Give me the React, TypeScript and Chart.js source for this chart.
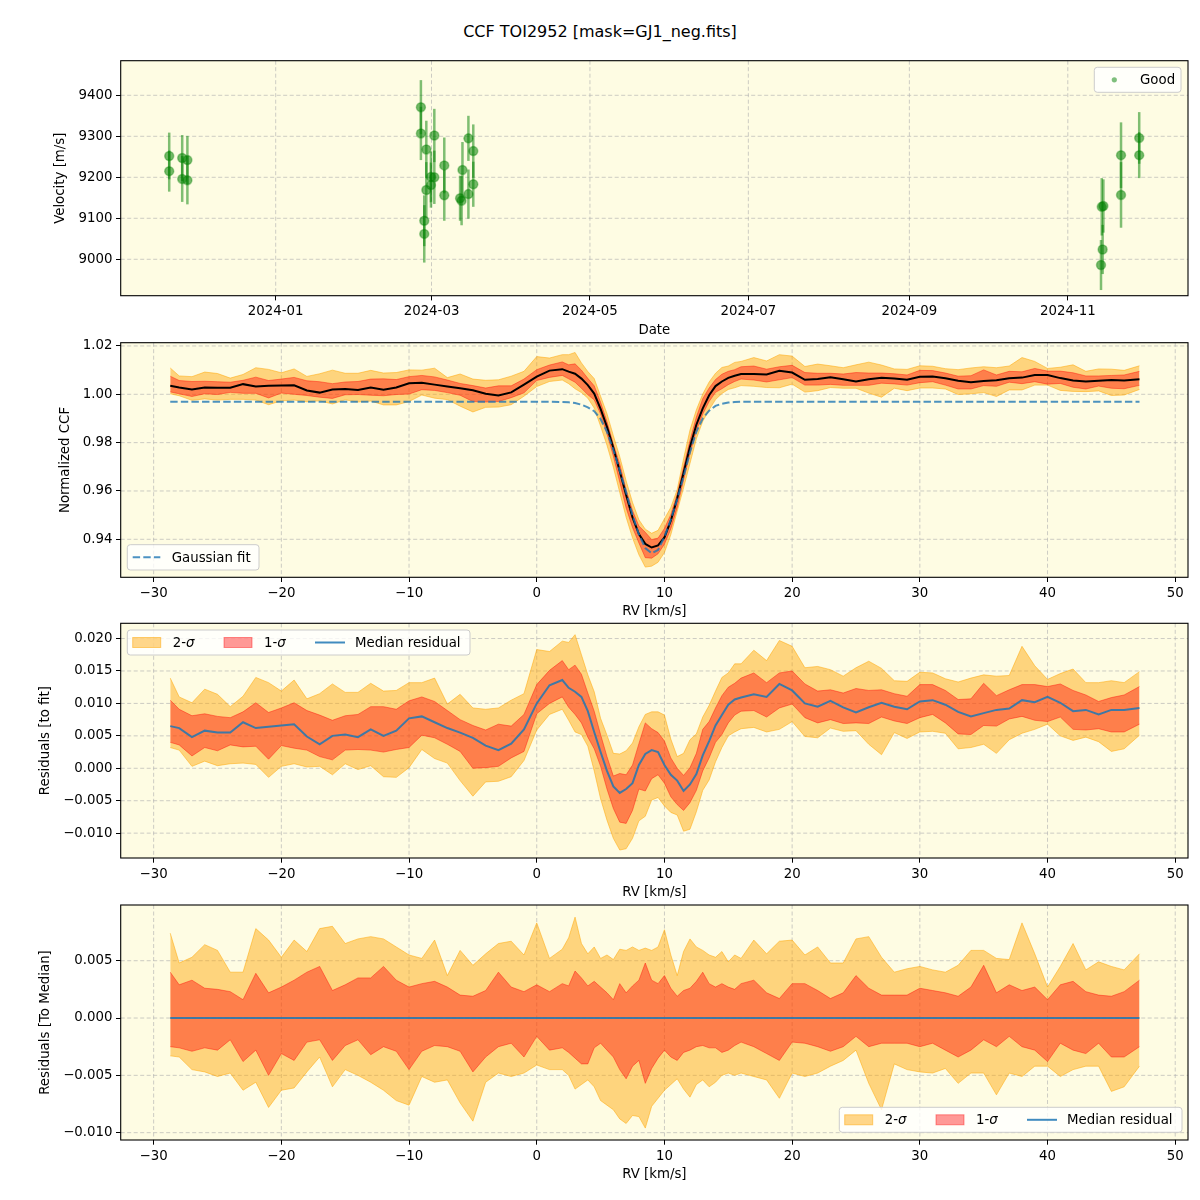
import React, { useEffect, useRef } from 'react';
import { Chart, registerables } from 'chart.js';

Chart.register(...registerables);

const FONT_FAMILY = "'DejaVu Sans', sans-serif";
const FONT_SIZE = 13.33;
const TITLE = 'CCF TOI2952 [mask=GJ1_neg.fits]';

// ---------- Panel 1: velocities ----------
const OBS_TIMES = [
  '2023-11-21T00:00Z', '2023-11-21T00:00Z', '2023-11-26T00:00Z', '2023-11-26T00:00Z',
  '2023-11-28T00:00Z', '2023-11-28T00:00Z', '2024-02-25T22:00Z', '2024-02-25T22:00Z',
  '2024-02-27T05:00Z', '2024-02-27T05:00Z', '2024-02-28T00:00Z', '2024-02-28T00:00Z',
  '2024-02-29T19:00Z', '2024-02-29T19:00Z', '2024-03-02T02:00Z', '2024-03-02T02:00Z',
  '2024-03-05T22:00Z', '2024-03-05T22:00Z', '2024-03-12T00:00Z', '2024-03-12T14:00Z',
  '2024-03-12T22:00Z', '2024-03-15T05:00Z', '2024-03-15T05:00Z', '2024-03-17T02:00Z',
  '2024-03-17T02:00Z', '2024-11-13T19:00Z', '2024-11-14T02:00Z', '2024-11-14T10:00Z',
  '2024-11-14T17:00Z', '2024-11-21T12:00Z', '2024-11-21T12:00Z', '2024-11-28T12:00Z',
  '2024-11-28T12:00Z',
];
const VELOCITY = [
  9252, 9215, 9247, 9196, 9242, 9193, 9371, 9307, 9094, 9062, 9268, 9169, 9201, 9181,
  9302, 9200, 9229, 9156, 9149, 9143, 9218, 9295, 9159, 9264, 9183, 8986, 9128, 9024,
  9130, 9254, 9157, 9296, 9254,
];
const VELOCITY_ERR = [
  57, 50, 56, 56, 59, 59, 66, 65, 62, 70, 70, 68, 62, 55, 65, 65, 68, 62, 55, 60, 68, 55,
  60, 65, 55, 61, 70, 60, 65, 80, 80, 63, 56,
];
const DATE_TICKS = ['2024-01-01', '2024-03-01', '2024-05-01', '2024-07-01', '2024-09-01', '2024-11-01'];
const VEL_TICKS = [9000, 9100, 9200, 9300, 9400];

// ---------- Panels 2-4: CCF ----------
const RV = [
  -28.7, -28, -27, -26, -25, -24, -23, -22, -21, -20,
  -19, -18, -17, -16, -15, -14, -13, -12, -11, -10,
  -9, -8, -7, -6, -5, -4, -3, -2, -1, 0,
  1, 2, 2.5, 3, 3.5, 4, 4.5, 5, 5.5, 6,
  6.5, 7, 7.5, 8, 8.5, 9, 9.5, 10, 10.5, 11,
  11.5, 12, 12.5, 13, 13.5, 14, 14.5, 15, 15.5, 16,
  17, 18, 19, 20, 21, 22, 23, 24, 25, 26,
  27, 28, 29, 30, 31, 32, 33, 34, 35, 36,
  37, 38, 39, 40, 41, 42, 43, 44, 45, 46,
  47.2,
];
const CCF_MEDIAN = [
  1.0035, 1.0028, 1.0020, 1.0028, 1.0027, 1.0027, 1.0042, 1.0032, 1.0035, 1.0036,
  1.0037, 1.0016, 1.0007, 1.0020, 1.0022, 1.0018, 1.0028, 1.0019, 1.0028, 1.0046,
  1.0048, 1.0040, 1.0032, 1.0025, 1.0017, 1.0002, 0.9995, 1.0008, 1.0040, 1.0073,
  1.0098, 1.0104, 1.0094, 1.0085, 1.0065, 1.0038, 1.0003, 0.9940, 0.9865, 0.9778,
  0.9682, 0.9583, 0.9491, 0.9422, 0.9381, 0.9366, 0.9375, 0.9408, 0.9477, 0.9569,
  0.9675, 0.9783, 0.9874, 0.9942, 0.9996, 1.0034, 1.0053, 1.0068, 1.0077, 1.0084,
  1.0084, 1.0082, 1.0097, 1.0090, 1.0060, 1.0063, 1.0070, 1.0062, 1.0053, 1.0062,
  1.0068, 1.0065, 1.0060, 1.0073, 1.0074, 1.0066, 1.0056, 1.0050, 1.0055, 1.0058,
  1.0066, 1.0069, 1.0080, 1.0080, 1.0067, 1.0057, 1.0053, 1.0056, 1.0059, 1.0057,
  1.0062,
];
const GAUSS_FIT = [
  0.9969, 0.9969, 0.9969, 0.9969, 0.9969, 0.9969, 0.9969, 0.9969, 0.9969, 0.9969,
  0.9969, 0.9969, 0.9969, 0.9969, 0.9969, 0.9969, 0.9969, 0.9969, 0.9969, 0.9969,
  0.9969, 0.9969, 0.9969, 0.9969, 0.9969, 0.9969, 0.9969, 0.9969, 0.9969, 0.9969,
  0.9969, 0.9968, 0.9967, 0.9964, 0.9957, 0.9946, 0.9930, 0.9898, 0.9845, 0.9770,
  0.9685, 0.9595, 0.9500, 0.9420, 0.9364, 0.9342, 0.9356, 0.9410, 0.9482, 0.9565,
  0.9660, 0.9760, 0.9845, 0.9900, 0.9932, 0.9952, 0.9961, 0.9966, 0.9968, 0.9969,
  0.9969, 0.9969, 0.9969, 0.9969, 0.9969, 0.9969, 0.9969, 0.9969, 0.9969, 0.9969,
  0.9969, 0.9969, 0.9969, 0.9969, 0.9969, 0.9969, 0.9969, 0.9969, 0.9969, 0.9969,
  0.9969, 0.9969, 0.9969, 0.9969, 0.9969, 0.9969, 0.9969, 0.9969, 0.9969, 0.9969,
  0.9969,
];
const RESID_MEDIAN = [
  0.0065, 0.0062, 0.0048, 0.0058, 0.0055, 0.0055, 0.0071, 0.0062, 0.0064, 0.0066,
  0.0068, 0.0049, 0.0037, 0.0050, 0.0052, 0.0048, 0.0060, 0.0050, 0.0058, 0.0077,
  0.0080, 0.0071, 0.0062, 0.0055, 0.0047, 0.0035, 0.0028, 0.0038, 0.0060, 0.0100,
  0.0128, 0.0136, 0.0124, 0.0118, 0.0110, 0.0088, 0.0056, 0.0025, -0.0004, -0.0028,
  -0.0038, -0.0032, -0.0023, 0.0005, 0.0022, 0.0028, 0.0025, 0.0005, -0.0010, -0.0019,
  -0.0035, -0.0025, -0.0009, 0.0020, 0.0042, 0.0066, 0.0082, 0.0098, 0.0106, 0.0109,
  0.0114, 0.0110, 0.0130, 0.0120, 0.0100, 0.0095, 0.0104, 0.0094, 0.0086, 0.0094,
  0.0101, 0.0095, 0.0091, 0.0103, 0.0105, 0.0098, 0.0087, 0.0080, 0.0085, 0.0090,
  0.0092, 0.0105, 0.0102, 0.0110, 0.0101, 0.0088, 0.0090, 0.0083, 0.0090, 0.0090,
  0.0093,
];
// Offsets of the percentile bands from the median (panel 4)
const BAND_HI2 = [
  0.0074, 0.0048, 0.0053, 0.0064, 0.0059, 0.0040, 0.0040, 0.0078, 0.0068, 0.0053,
  0.0068, 0.0058, 0.0078, 0.0080, 0.0065, 0.0069, 0.0071, 0.0069, 0.0062, 0.0055,
  0.0052, 0.0068, 0.0037, 0.0059, 0.0046, 0.0056, 0.0065, 0.0067, 0.0055, 0.0083,
  0.0052, 0.0060, 0.0070, 0.0088, 0.0065, 0.0056, 0.0062, 0.0052, 0.0055, 0.0051,
  0.0060, 0.0059, 0.0062, 0.0059, 0.0061, 0.0059, 0.0062, 0.0077, 0.0055, 0.0037,
  0.0058, 0.0069, 0.0062, 0.0059, 0.0055, 0.0053, 0.0058, 0.0049, 0.0055, 0.0052,
  0.0068, 0.0056, 0.0067, 0.0068, 0.0055, 0.0062, 0.0048, 0.0048, 0.0069, 0.0071,
  0.0053, 0.0040, 0.0043, 0.0045, 0.0042, 0.0040, 0.0046, 0.0059, 0.0059, 0.0052,
  0.0051, 0.0083, 0.0056, 0.0027, 0.0045, 0.0065, 0.0042, 0.0049, 0.0045, 0.0042,
  0.0056,
];
const BAND_HI1 = [
  0.0040, 0.0029, 0.0033, 0.0026, 0.0025, 0.0023, 0.0016, 0.0039, 0.0022, 0.0027,
  0.0033, 0.0040, 0.0045, 0.0024, 0.0029, 0.0035, 0.0035, 0.0045, 0.0033, 0.0027,
  0.0030, 0.0032, 0.0027, 0.0020, 0.0019, 0.0024, 0.0040, 0.0027, 0.0023, 0.0029,
  0.0023, 0.0030, 0.0028, 0.0041, 0.0035, 0.0028, 0.0032, 0.0027, 0.0022, 0.0016,
  0.0030, 0.0022, 0.0028, 0.0033, 0.0048, 0.0033, 0.0030, 0.0037, 0.0026, 0.0019,
  0.0024, 0.0026, 0.0032, 0.0040, 0.0030, 0.0027, 0.0030, 0.0027, 0.0025, 0.0030,
  0.0033, 0.0022, 0.0017, 0.0030, 0.0030, 0.0024, 0.0017, 0.0022, 0.0037, 0.0026,
  0.0020, 0.0020, 0.0020, 0.0026, 0.0024, 0.0022, 0.0019, 0.0027, 0.0046, 0.0022,
  0.0029, 0.0024, 0.0027, 0.0016, 0.0029, 0.0032, 0.0023, 0.0020, 0.0019, 0.0023,
  0.0033,
];
const BAND_LO1 = [
  -0.0025, -0.0026, -0.0029, -0.0026, -0.0028, -0.0019, -0.0038, -0.0028, -0.0050, -0.0031,
  -0.0037, -0.0021, -0.0019, -0.0037, -0.0024, -0.0019, -0.0032, -0.0025, -0.0029, -0.0045,
  -0.0029, -0.0024, -0.0025, -0.0029, -0.0047, -0.0034, -0.0025, -0.0022, -0.0034, -0.0016,
  -0.0028, -0.0026, -0.0030, -0.0035, -0.0040, -0.0040, -0.0026, -0.0022, -0.0028, -0.0034,
  -0.0045, -0.0053, -0.0042, -0.0037, -0.0057, -0.0044, -0.0035, -0.0028, -0.0034, -0.0037,
  -0.0030, -0.0028, -0.0025, -0.0024, -0.0026, -0.0026, -0.0030, -0.0028, -0.0024, -0.0021,
  -0.0025, -0.0031, -0.0037, -0.0021, -0.0022, -0.0025, -0.0029, -0.0025, -0.0016, -0.0025,
  -0.0022, -0.0022, -0.0022, -0.0025, -0.0022, -0.0028, -0.0034, -0.0028, -0.0019, -0.0025,
  -0.0016, -0.0025, -0.0028, -0.0038, -0.0022, -0.0028, -0.0031, -0.0022, -0.0034, -0.0034,
  -0.0025,
];
const BAND_LO2 = [
  -0.0033, -0.0034, -0.0045, -0.0047, -0.0051, -0.0048, -0.0063, -0.0056, -0.0078, -0.0063,
  -0.0061, -0.0047, -0.0034, -0.0060, -0.0045, -0.0050, -0.0056, -0.0063, -0.0072, -0.0076,
  -0.0051, -0.0056, -0.0054, -0.0074, -0.0090, -0.0056, -0.0048, -0.0051, -0.0048, -0.0041,
  -0.0045, -0.0045, -0.0050, -0.0062, -0.0058, -0.0054, -0.0060, -0.0072, -0.0076, -0.0080,
  -0.0088, -0.0092, -0.0085, -0.0086, -0.0096, -0.0077, -0.0070, -0.0063, -0.0058, -0.0053,
  -0.0062, -0.0069, -0.0058, -0.0054, -0.0060, -0.0056, -0.0050, -0.0048, -0.0050, -0.0048,
  -0.0051, -0.0054, -0.0070, -0.0048, -0.0051, -0.0048, -0.0042, -0.0037, -0.0028, -0.0057,
  -0.0080, -0.0040, -0.0045, -0.0047, -0.0048, -0.0044, -0.0057, -0.0048, -0.0048, -0.0067,
  -0.0048, -0.0051, -0.0042, -0.0042, -0.0051, -0.0045, -0.0042, -0.0042, -0.0064, -0.0060,
  -0.0042,
];
const RV_TICKS = [-30, -20, -10, 0, 10, 20, 30, 40, 50];
const CCF_TICKS = [0.94, 0.96, 0.98, 1.0, 1.02];
const RES_TICKS = [-0.01, -0.005, 0, 0.005, 0.01, 0.015, 0.02];
const MED_TICKS = [-0.01, -0.005, 0, 0.005];

// ---------- styles / geometry ----------
const BG = 'rgb(254,252,227)';
const ORANGE_FILL = 'rgba(255,165,0,0.45)';
const ORANGE_EDGE = 'rgba(255,165,0,0.5)';
const RED_FILL = 'rgba(255,0,0,0.4)';
const RED_EDGE = 'rgba(255,0,0,0.4)';
const BLUE = 'rgba(31,119,180,0.85)';
const GREEN = 'rgba(0,128,0,0.5)';

const PLOT_LEFT = 120.7;
const PLOT_RIGHT = 1188;
const FIG_W = 1200;

const PANELS = [
  { top: 60.7, bottom: 295.7 },
  { top: 342.7, bottom: 577.3 },
  { top: 623.3, bottom: 858 },
  { top: 905, bottom: 1140 },
];

function geom(p: { top: number; bottom: number }) {
  const ctop = Math.floor(p.top) - 20;
  const padTop = p.top - ctop;
  const height = Math.ceil(p.bottom) - ctop + 50;
  const xAxisH = height - (p.bottom - ctop);
  return { ctop, padTop, height, xAxisH };
}

const toDay = (s: string) => (Date.parse(s) - Date.UTC(2024, 0, 1)) / 86400000;
const fmtSigned = (v: number, d: number) => (v < 0 ? '\u2212' : '') + Math.abs(v).toFixed(d);
const font = (italic = false) => `${italic ? 'italic ' : ''}${FONT_SIZE}px ${FONT_FAMILY}`;

function axis(kind: 'x' | 'y', min: number, max: number, ticks: number[], fmt: (v: number) => string, size: number) {
  return {
    type: 'linear',
    min,
    max,
    afterBuildTicks: (s: any) => {
      s.ticks = ticks.map((v) => ({ value: v }));
    },
    afterFit: (s: any) => {
      if (kind === 'x') s.height = size;
      else s.width = size;
    },
    ticks: {
      callback: (v: any) => fmt(Number(v)),
      font: { family: FONT_FAMILY, size: FONT_SIZE },
      color: '#000',
      padding: 3.5,
      autoSkip: false,
      maxRotation: 0,
      minRotation: 0,
    },
    grid: {
      drawOnChartArea: false,
      drawTicks: true,
      tickLength: 4.7,
      tickColor: '#000',
      tickWidth: 1,
      color: '#000',
    },
    border: { display: false },
  };
}

function decorPlugin(xTitle: string, yTitle: string, yTitleX: number, legend?: (c: any) => void) {
  return {
    id: 'decor',
    beforeDraw(chart: any) {
      const { ctx, chartArea: a } = chart;
      ctx.save();
      ctx.fillStyle = BG;
      ctx.fillRect(a.left, a.top, a.right - a.left, a.bottom - a.top);
      ctx.restore();
    },
    beforeDatasetsDraw(chart: any) {
      const { ctx, chartArea: a, scales } = chart;
      ctx.save();
      ctx.strokeStyle = 'rgba(176,176,176,0.65)';
      ctx.lineWidth = 1;
      ctx.setLineDash([4, 2.5]);
      for (const t of scales.x.ticks) {
        const px = scales.x.getPixelForValue(t.value);
        if (px < a.left || px > a.right) continue;
        ctx.beginPath();
        ctx.moveTo(px, a.top);
        ctx.lineTo(px, a.bottom);
        ctx.stroke();
      }
      for (const t of scales.y.ticks) {
        const py = scales.y.getPixelForValue(t.value);
        if (py < a.top || py > a.bottom) continue;
        ctx.beginPath();
        ctx.moveTo(a.left, py);
        ctx.lineTo(a.right, py);
        ctx.stroke();
      }
      ctx.restore();
    },
    afterDraw(chart: any) {
      const { ctx, chartArea: a } = chart;
      ctx.save();
      ctx.strokeStyle = '#000';
      ctx.lineWidth = 1.1;
      ctx.strokeRect(a.left, a.top, a.right - a.left, a.bottom - a.top);
      ctx.fillStyle = '#000';
      ctx.font = font();
      ctx.textAlign = 'center';
      ctx.textBaseline = 'middle';
      ctx.fillText(xTitle, (a.left + a.right) / 2, a.bottom + 34.5);
      ctx.translate(yTitleX, (a.top + a.bottom) / 2);
      ctx.rotate(-Math.PI / 2);
      ctx.fillText(yTitle, 0, 0);
      ctx.restore();
      if (legend) legend(chart);
    },
  };
}

function legendBox(ctx: CanvasRenderingContext2D, x: number, y: number, w: number, h: number) {
  const r = 3;
  ctx.beginPath();
  ctx.moveTo(x + r, y);
  ctx.lineTo(x + w - r, y);
  ctx.arcTo(x + w, y, x + w, y + r, r);
  ctx.lineTo(x + w, y + h - r);
  ctx.arcTo(x + w, y + h, x + w - r, y + h, r);
  ctx.lineTo(x + r, y + h);
  ctx.arcTo(x, y + h, x, y + h - r, r);
  ctx.lineTo(x, y + r);
  ctx.arcTo(x, y, x + r, y, r);
  ctx.closePath();
  ctx.fillStyle = 'rgba(255,255,255,0.8)';
  ctx.fill();
  ctx.strokeStyle = '#cccccc';
  ctx.lineWidth = 1;
  ctx.stroke();
}

function sigmaText(ctx: CanvasRenderingContext2D, n: string, x: number, y: number) {
  ctx.font = font();
  ctx.fillText(n + '-', x, y);
  const w = ctx.measureText(n + '-').width;
  ctx.font = font(true);
  ctx.fillText('\u03c3', x + w, y);
  ctx.font = font();
}

function drawSigmaLegend(ctx: CanvasRenderingContext2D, left: number, top: number) {
  const w = 342.7;
  const h = 25;
  legendBox(ctx, left, top, w, h);
  const cy = top + h / 2;
  ctx.textBaseline = 'middle';
  ctx.textAlign = 'left';
  ctx.fillStyle = ORANGE_FILL;
  ctx.fillRect(left + 5.4, cy - 5, 28, 10);
  ctx.strokeStyle = ORANGE_EDGE;
  ctx.strokeRect(left + 5.4, cy - 5, 28, 10);
  ctx.fillStyle = RED_FILL;
  ctx.fillRect(left + 96.7, cy - 5, 28, 10);
  ctx.strokeStyle = RED_EDGE;
  ctx.strokeRect(left + 96.7, cy - 5, 28, 10);
  ctx.strokeStyle = BLUE;
  ctx.lineWidth = 2;
  ctx.beginPath();
  ctx.moveTo(left + 187.7, cy);
  ctx.lineTo(left + 217.7, cy);
  ctx.stroke();
  ctx.fillStyle = '#000';
  sigmaText(ctx, '2', left + 45.4, cy + 1);
  sigmaText(ctx, '1', left + 136.7, cy + 1);
  ctx.fillText('Median residual', left + 227.7, cy + 1);
}

function bandDatasets(center: number[]) {
  const pts = (off: number[]) => RV.map((v, i) => ({ x: v, y: center[i] + off[i] }));
  const base = { pointRadius: 0, tension: 0, borderWidth: 1 };
  return [
    { ...base, data: pts(BAND_HI2), borderColor: ORANGE_EDGE, backgroundColor: ORANGE_FILL, fill: false, order: 6 },
    { ...base, data: pts(BAND_LO2), borderColor: ORANGE_EDGE, backgroundColor: ORANGE_FILL, fill: 0, order: 5 },
    { ...base, data: pts(BAND_HI1), borderColor: RED_EDGE, backgroundColor: RED_FILL, fill: false, order: 4 },
    { ...base, data: pts(BAND_LO1), borderColor: RED_EDGE, backgroundColor: RED_FILL, fill: 2, order: 3 },
  ];
}

const commonOptions = (padTop: number) => ({
  animation: false,
  responsive: false,
  maintainAspectRatio: false,
  devicePixelRatio: 1,
  events: [],
  layout: { padding: { left: 0, right: FIG_W - PLOT_RIGHT, top: padTop, bottom: 0 } },
  plugins: { legend: { display: false }, tooltip: { enabled: false }, title: { display: false } },
});

export default function App() {
  const r1 = useRef<HTMLCanvasElement>(null);
  const r2 = useRef<HTMLCanvasElement>(null);
  const r3 = useRef<HTMLCanvasElement>(null);
  const r4 = useRef<HTMLCanvasElement>(null);
  const geoms = PANELS.map(geom);

  useEffect(() => {
    const charts: Chart[] = [];
    const [g1, g2, g3, g4] = geoms;
    const obsDays = OBS_TIMES.map(toDay);
    const dateTickDays = DATE_TICKS.map((d) => toDay(d + 'T00:00Z'));
    const rvMin = -32.58;
    const rvMax = 51.0;
    const rvFmt = (v: number) => fmtSigned(v, 0);

    // Panel 1
    const errorBars = {
      id: 'errorBars',
      beforeDatasetsDraw(chart: any) {
        const { ctx, scales } = chart;
        ctx.save();
        ctx.strokeStyle = GREEN;
        ctx.lineWidth = 2.5;
        obsDays.forEach((d, i) => {
          const px = scales.x.getPixelForValue(d);
          ctx.beginPath();
          ctx.moveTo(px, scales.y.getPixelForValue(VELOCITY[i] - VELOCITY_ERR[i]));
          ctx.lineTo(px, scales.y.getPixelForValue(VELOCITY[i] + VELOCITY_ERR[i]));
          ctx.stroke();
        });
        ctx.restore();
      },
    };
    const legend1 = (chart: any) => {
      const { ctx, chartArea: a } = chart;
      const left = a.right - 93.7;
      const top = a.top + 6.6;
      ctx.save();
      legendBox(ctx, left, top, 86.7, 25);
      ctx.fillStyle = GREEN;
      ctx.beginPath();
      ctx.arc(left + 20, top + 12.5, 2.6, 0, Math.PI * 2);
      ctx.fill();
      ctx.fillStyle = '#000';
      ctx.font = font();
      ctx.textBaseline = 'middle';
      ctx.textAlign = 'left';
      ctx.fillText('Good', left + 45.7, top + 13.5);
      ctx.restore();
    };
    charts.push(
      new Chart(r1.current!, {
        type: 'scatter',
        data: {
          datasets: [
            {
              data: obsDays.map((d, i) => ({ x: d, y: VELOCITY[i] })),
              pointRadius: 4.5,
              pointBackgroundColor: 'rgba(0,128,0,0.55)',
              pointBorderColor: 'rgba(0,128,0,0.35)',
              pointBorderWidth: 1.5,
            },
          ],
        },
        options: {
          ...commonOptions(g1.padTop),
          scales: {
            x: {
              ...axis('x', -59.68, 351.29, dateTickDays, (v) => {
                const i = dateTickDays.findIndex((d) => Math.abs(d - v) < 1e-6);
                return i >= 0 ? DATE_TICKS[i].slice(0, 7) : '';
              }, g1.xAxisH),
            },
            y: { ...axis('y', 8911.2, 9484.4, VEL_TICKS, (v) => String(v), PLOT_LEFT) },
          },
        } as any,
        plugins: [decorPlugin('Date', 'Velocity [m/s]', 61, legend1), errorBars],
      } as any)
    );

    // Panel 2
    const legend2 = (chart: any) => {
      const { ctx, chartArea: a } = chart;
      const left = a.left + 6.6;
      const top = a.bottom - 32.6;
      ctx.save();
      legendBox(ctx, left, top, 131.7, 25.3);
      const cy = top + 12.6;
      ctx.strokeStyle = 'rgba(31,119,180,0.8)';
      ctx.lineWidth = 2;
      ctx.setLineDash([7.4, 3.2]);
      ctx.beginPath();
      ctx.moveTo(left + 5.4, cy);
      ctx.lineTo(left + 33, cy);
      ctx.stroke();
      ctx.setLineDash([]);
      ctx.fillStyle = '#000';
      ctx.font = font();
      ctx.textBaseline = 'middle';
      ctx.textAlign = 'left';
      ctx.fillText('Gaussian fit', left + 44.4, cy + 1);
      ctx.restore();
    };
    charts.push(
      new Chart(r2.current!, {
        type: 'line',
        data: {
          datasets: [
            ...bandDatasets(CCF_MEDIAN),
            { data: RV.map((v, i) => ({ x: v, y: CCF_MEDIAN[i] })), borderColor: '#000', borderWidth: 2, pointRadius: 0, fill: false, order: 2 },
            { data: RV.map((v, i) => ({ x: v, y: GAUSS_FIT[i] })), borderColor: 'rgba(31,119,180,0.8)', borderWidth: 2, borderDash: [7.4, 3.2], pointRadius: 0, fill: false, order: 1 },
          ],
        },
        options: {
          ...commonOptions(g2.padTop),
          scales: {
            x: { ...axis('x', rvMin, rvMax, RV_TICKS, rvFmt, g2.xAxisH) },
            y: { ...axis('y', 0.92428, 1.02135, CCF_TICKS, (v) => v.toFixed(2), PLOT_LEFT) },
          },
        } as any,
        plugins: [decorPlugin('RV [km/s]', 'Normalized CCF', 66, legend2)],
      } as any)
    );

    // Panel 3
    const legend3 = (chart: any) => {
      const { ctx, chartArea: a } = chart;
      ctx.save();
      drawSigmaLegend(ctx, a.left + 6.6, a.top + 6.7);
      ctx.restore();
    };
    charts.push(
      new Chart(r3.current!, {
        type: 'line',
        data: {
          datasets: [
            ...bandDatasets(RESID_MEDIAN),
            { data: RV.map((v, i) => ({ x: v, y: RESID_MEDIAN[i] })), borderColor: BLUE, borderWidth: 2, pointRadius: 0, fill: false, order: 1 },
          ],
        },
        options: {
          ...commonOptions(g3.padTop),
          scales: {
            x: { ...axis('x', rvMin, rvMax, RV_TICKS, rvFmt, g3.xAxisH) },
            y: { ...axis('y', -0.01383, 0.02235, RES_TICKS, (v) => fmtSigned(v, 3), PLOT_LEFT) },
          },
        } as any,
        plugins: [decorPlugin('RV [km/s]', 'Residuals [to fit]', 46, legend3)],
      } as any)
    );

    // Panel 4
    const zeroMedian = [
      { x: RV[0], y: 0 },
      { x: RV[RV.length - 1], y: 0 },
    ];
    const legend4 = (chart: any) => {
      const { ctx, chartArea: a } = chart;
      ctx.save();
      drawSigmaLegend(ctx, a.right - 6 - 342.7, a.bottom - 7.7 - 25);
      ctx.restore();
    };
    const zeros = RV.map(() => 0);
    charts.push(
      new Chart(r4.current!, {
        type: 'line',
        data: {
          datasets: [
            ...bandDatasets(zeros),
            { data: zeroMedian, borderColor: BLUE, borderWidth: 2, pointRadius: 0, fill: false, order: 1 },
          ],
        },
        options: {
          ...commonOptions(g4.padTop),
          scales: {
            x: { ...axis('x', rvMin, rvMax, RV_TICKS, rvFmt, g4.xAxisH) },
            y: { ...axis('y', -0.01064, 0.00986, MED_TICKS, (v) => fmtSigned(v, 3), PLOT_LEFT) },
          },
        } as any,
        plugins: [decorPlugin('RV [km/s]', 'Residuals [To Median]', 46, legend4)],
      } as any)
    );

    return () => charts.forEach((c) => c.destroy());
  }, []);

  const refs = [r1, r2, r3, r4];
  return (
    <div style={{ position: 'absolute', left: 0, top: 0, width: 1200, height: 1200, background: '#fff', overflow: 'hidden' }}>
      <div
        style={{
          position: 'absolute',
          left: 0,
          top: 22,
          width: 1200,
          textAlign: 'center',
          fontFamily: FONT_FAMILY,
          fontSize: 16,
          lineHeight: '20px',
          color: '#000',
        }}
      >
        {TITLE}
      </div>
      {geoms.map((g, i) => (
        <canvas
          key={i}
          ref={refs[i]}
          width={FIG_W}
          height={g.height}
          style={{ position: 'absolute', left: 0, top: g.ctop, width: FIG_W, height: g.height }}
        />
      ))}
    </div>
  );
}
